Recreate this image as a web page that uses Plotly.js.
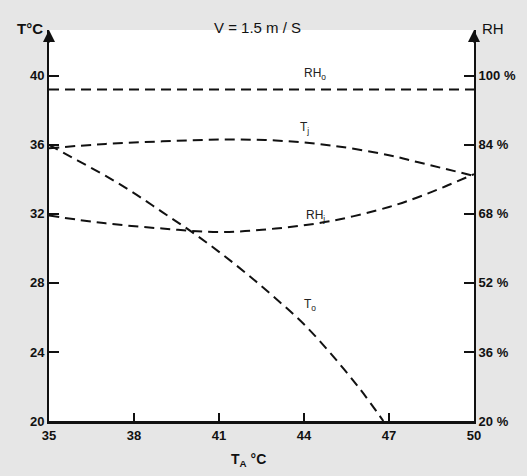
<!DOCTYPE html>
<html>
<head>
<meta charset="utf-8">
<script src="https://cdn.plot.ly/plotly-3.0.1.min.js"></script>
<style>html,body{margin:0;padding:0;background:#e6e6e6;}#chart{width:527px;height:476px;}</style>
</head>
<body>
<div id="chart"></div>
<script>
// Data (air temperature T_A in °C)
const xTj = [35, 37, 39, 41, 43, 45, 47, 48, 49, 50];
const Tj  = [35.8, 36.05, 36.2, 36.3, 36.25, 35.95, 35.4, 35.0, 34.6, 34.2];

const xTo = [35, 36, 37, 38, 39, 40, 41, 42, 43, 44, 45, 46, 46.8];
const To  = [36.0, 35.1, 34.2, 33.2, 32.1, 31.0, 29.8, 28.5, 27.1, 25.6, 23.8, 21.8, 20.0];

const xRHj = [35, 37, 39, 41, 43, 45, 47, 48, 49, 50];
const RHj  = [67.6, 65.8, 64.6, 63.8, 64.6, 66.4, 69.6, 71.8, 74.4, 77.2];

const xRHo = [35, 50];
const RHo  = [96.8, 96.8];

const xTicks = [35, 38, 41, 44, 47, 50];
const tTicks = [20, 24, 28, 32, 36, 40];
const rhTicks = [20, 36, 52, 68, 84, 100];
const rhTickText = ["20 %", "36 %", "52 %", "68 %", "84 %", "100 %"];

const labels = [
  {x: 44.4, y: 40.1, text: "RH<sub>o</sub>"},
  {x: 44.0, y: 37.0, text: "T<sub>j</sub>"},
  {x: 44.4, y: 31.9, text: "RH<sub>j</sub>"},
  {x: 44.2, y: 26.7, text: "T<sub>o</sub>"}
];

const yTop = 42.65;
const line = {color: "#111", width: 2, dash: "10px,6px", shape: "spline"};
const tickFont = {family: "Liberation Sans, Arial, sans-serif", size: 13, color: "#111", weight: "bold"};

const traces = [
  {x: xTj, y: Tj, mode: "lines", line: line, yaxis: "y"},
  {x: xTo, y: To, mode: "lines", line: line, yaxis: "y"},
  {x: xRHj, y: RHj, mode: "lines", line: line, yaxis: "y2"},
  {x: xRHo, y: RHo, mode: "lines", line: Object.assign({}, line, {shape: "linear"}), yaxis: "y2"}
];

const annotations = labels.map(l => ({x: l.x, y: l.y, xref: "x", yref: "y", text: l.text, showarrow: false,
  font: {family: "Liberation Sans, Arial, sans-serif", size: 12, color: "#222"}}));

annotations.push(
  {xref: "paper", yref: "paper", x: 0.49, y: 1, yshift: 3, yanchor: "middle", text: "V = 1.5 m / S", showarrow: false,
   font: {family: "Liberation Sans, Arial, sans-serif", size: 15, color: "#111"}},
  {xref: "paper", yref: "paper", x: 0, y: 1, xshift: -4, yshift: 2, xanchor: "right", yanchor: "middle", text: "T°C", showarrow: false,
   font: {family: "Liberation Sans, Arial, sans-serif", size: 15, color: "#111", weight: "bold"}},
  {xref: "paper", yref: "paper", x: 1, y: 1, xshift: 6, yshift: 2, xanchor: "left", yanchor: "middle", text: "RH", showarrow: false,
   font: {family: "Liberation Sans, Arial, sans-serif", size: 15, color: "#111"}},
  {xref: "paper", yref: "paper", x: 0.47, y: 0, yshift: -28, yanchor: "top", text: "T<sub>A</sub> °C", showarrow: false,
   font: {family: "Liberation Sans, Arial, sans-serif", size: 14, color: "#111", weight: "bold"}},
  {xref: "paper", yref: "paper", x: 0, y: 1, ax: 0, ay: 14, showarrow: true, arrowhead: 2, arrowsize: 1.2, arrowwidth: 2, arrowcolor: "#111", text: ""},
  {xref: "paper", yref: "paper", x: 1, y: 1, ax: 0, ay: 14, showarrow: true, arrowhead: 2, arrowsize: 1.2, arrowwidth: 2, arrowcolor: "#111", text: ""}
);

const layout = {
  width: 527, height: 476,
  margin: {l: 49, r: 53, t: 30, b: 55},
  paper_bgcolor: "#e6e6e6",
  plot_bgcolor: "#ffffff",
  showlegend: false,
  xaxis: {range: [35, 50], tickvals: xTicks, ticks: "inside", ticklen: 8, tickwidth: 1.5, tickcolor: "#111",
    showgrid: false, zeroline: false, showline: true, linecolor: "#111", linewidth: 3, mirror: false,
    tickfont: tickFont},
  yaxis: {range: [20, yTop], tickvals: tTicks, ticks: "inside", ticklen: 10, tickwidth: 1.5, tickcolor: "#111",
    showgrid: false, zeroline: false, showline: true, linecolor: "#111", linewidth: 2, tickfont: tickFont},
  yaxis2: {range: [20, 20 + 4 * (yTop - 20)], overlaying: "y", side: "right", tickvals: rhTicks, ticktext: rhTickText,
    ticks: "inside", ticklen: 10, tickwidth: 1.5, tickcolor: "#111",
    showgrid: false, zeroline: false, showline: true, linecolor: "#111", linewidth: 2, tickfont: tickFont},
  annotations: annotations
};

Plotly.newPlot("chart", traces, layout, {displayModeBar: false, staticPlot: true});
</script>
</body>
</html>
